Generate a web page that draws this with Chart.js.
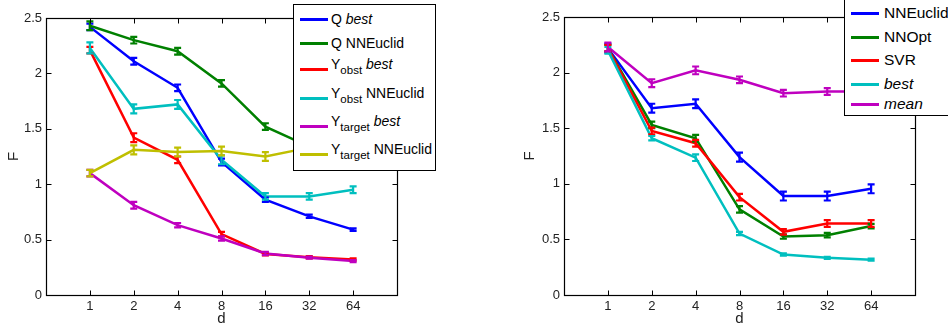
<!DOCTYPE html>
<html>
<head>
<meta charset="utf-8">
<script src="https://cdn.jsdelivr.net/npm/chart.js@4"></script>
<style>
  body { margin: 0; background: #fff; width: 948px; height: 329px; overflow: hidden; position: relative;
         font-family: "Liberation Sans", Arial, sans-serif; }
  .panel { position: absolute; top: 0; width: 474px; height: 329px; }
  .legend { position: absolute; background: #fff; border: 1px solid #000; box-sizing: border-box; color: #000; }
  .legend .swatch { position: absolute; height: 3px; width: 28px; }
  .legend .label { position: absolute; white-space: nowrap; line-height: 16px; }
  .legend sub { font-size: 11.5px; vertical-align: -5px; line-height: 0; }
</style>
</head>
<body>
<canvas id="left" class="panel" width="474" height="329" style="left:0"></canvas>
<canvas id="right" class="panel" width="474" height="329" style="left:474px"></canvas>
<div id="legLeft" class="legend" style="left:293px; top:4px; width:143px; height:167px; font-size:14px"></div>
<div id="legRight" class="legend" style="left:844px; top:-2px; width:110px; height:118px; font-size:15.5px"></div>
<script>
/* x categories (d) and y ticks */
const dLabels = ['1', '2', '4', '8', '16', '32', '64'];
const yTicks = [0, 0.5, 1, 1.5, 2, 2.5];

/* left panel */
const qBest          = [2.42, 2.11, 1.87, 1.20, 0.86, 0.71, 0.59];
const qBestErr       = [0.03, 0.03, 0.03, 0.03, 0.02, 0.015, 0.012];
const qNNE           = [2.43, 2.30, 2.20, 1.91, 1.52, 1.34, 1.28];
const qNNEErr        = [0.04, 0.03, 0.03, 0.03, 0.03, 0.03, 0.03];
const yObstBest      = [2.21, 1.42, 1.22, 0.55, 0.37, 0.34, 0.32];
const yObstBestErr   = [0.03, 0.04, 0.03, 0.02, 0.012, 0.01, 0.01];
const yObstNNE       = [2.23, 1.68, 1.72, 1.22, 0.89, 0.89, 0.95];
const yObstNNEErr    = [0.05, 0.04, 0.04, 0.04, 0.03, 0.03, 0.03];
const yTargetBest    = [1.10, 0.81, 0.63, 0.51, 0.375, 0.337, 0.306];
const yTargetBestErr = [0.03, 0.03, 0.02, 0.02, 0.015, 0.01, 0.01];
const yTargetNNE     = [1.10, 1.31, 1.29, 1.30, 1.25, 1.33, 1.33];
const yTargetNNEErr  = [0.03, 0.04, 0.04, 0.04, 0.04, 0.04, 0.04];

/* right panel */
const nnEuclid    = [2.22, 1.68, 1.72, 1.24, 0.89, 0.89, 0.955];
const nnEuclidErr = [0.04, 0.04, 0.04, 0.04, 0.04, 0.04, 0.04];
const nnOpt       = [2.22, 1.53, 1.41, 0.77, 0.526, 0.538, 0.62];
const nnOptErr    = [0.03, 0.03, 0.03, 0.03, 0.02, 0.02, 0.02];
const svr         = [2.22, 1.475, 1.365, 0.88, 0.568, 0.643, 0.643];
const svrErr      = [0.03, 0.03, 0.03, 0.03, 0.025, 0.03, 0.03];
const best        = [2.20, 1.41, 1.235, 0.553, 0.364, 0.334, 0.318];
const bestErr     = [0.03, 0.02, 0.03, 0.015, 0.01, 0.01, 0.01];
const mean        = [2.23, 1.905, 2.02, 1.935, 1.815, 1.83, 1.83];
const meanErr     = [0.04, 0.035, 0.035, 0.03, 0.03, 0.03, 0.03];

const C = { blue: '#0000ff', green: '#008000', red: '#ff0000', cyan: '#00bfbf', magenta: '#bf00bf', olive: '#bfbf00' };

function series(label, values, err, color, i) {
    return {
        label, err,
        data: values.map((v, k) => ({ x: k, y: v })),
        borderColor: color, backgroundColor: color,
        borderWidth: 2.5, pointRadius: 0, tension: 0,
        order: -i   // later series drawn on top, like matlab
    };
}

// error bars with small caps, drawn through the scales
const errorBars = {
    id: 'errorBars',
    afterDatasetsDraw(chart) {
        const { ctx, scales: { x, y } } = chart;
        ctx.save();
        ctx.lineWidth = 2.2;
        chart.data.datasets.forEach(ds => {
            ctx.strokeStyle = ds.borderColor;
            ds.data.forEach((p, k) => {
                const e = ds.err[k];
                const px = x.getPixelForValue(p.x);
                const y0 = y.getPixelForValue(p.y - e), y1 = y.getPixelForValue(p.y + e);
                ctx.beginPath();
                ctx.moveTo(px, y0); ctx.lineTo(px, y1);
                ctx.moveTo(px - 3.5, y0); ctx.lineTo(px + 3.5, y0);
                ctx.moveTo(px - 3.5, y1); ctx.lineTo(px + 3.5, y1);
                ctx.stroke();
            });
        });
        ctx.restore();
    }
};

// box round the plot with inward ticks on all four sides
const matlabBox = {
    id: 'matlabBox',
    afterDraw(chart) {
        const { ctx, chartArea: a, scales: { x, y } } = chart;
        const L = Math.round(a.left) + 0.5, R = Math.round(a.right) + 0.5;
        const T = Math.round(a.top) + 0.5, B = Math.round(a.bottom) + 0.5;
        const tl = 5;
        ctx.save();
        ctx.strokeStyle = '#000';
        ctx.lineWidth = 1.2;
        ctx.strokeRect(L, T, R - L, B - T);
        ctx.beginPath();
        ctx.lineWidth = 1;
        x.ticks.forEach(t => {
            const px = Math.round(x.getPixelForValue(t.value)) + 0.5;
            ctx.moveTo(px, B); ctx.lineTo(px, B - tl);
            ctx.moveTo(px, T); ctx.lineTo(px, T + tl);
        });
        y.ticks.forEach(t => {
            const py = Math.round(y.getPixelForValue(t.value)) + 0.5;
            ctx.moveTo(L, py); ctx.lineTo(L + tl, py);
            ctx.moveTo(R, py); ctx.lineTo(R - tl, py);
        });
        ctx.stroke();
        ctx.restore();
    }
};

function makeChart(id, datasets, yWidth, padding) {
    const font = { family: '"Liberation Sans", Arial, sans-serif', size: 13 };
    return new Chart(document.getElementById(id), {
        type: 'line',
        data: { datasets },
        options: {
            responsive: false, animation: false, devicePixelRatio: 1,
            layout: { padding },
            plugins: { legend: { display: false }, tooltip: { enabled: false } },
            scales: {
                x: {
                    type: 'linear', min: -1, max: 7,
                    afterBuildTicks: s => { s.ticks = dLabels.map((_, i) => ({ value: i })); },
                    afterFit: s => { s.height = 34; },
                    ticks: { callback: v => dLabels[v], color: '#222', font, padding: 4, maxRotation: 0 },
                    grid: { display: false, drawTicks: false },
                    border: { display: false },
                    title: { display: true, text: 'd', color: '#222', font: { ...font, size: 15 }, padding: { top: 0, bottom: 1 } }
                },
                y: {
                    min: 0, max: 2.5,
                    afterBuildTicks: s => { s.ticks = yTicks.map(v => ({ value: v })); },
                    afterFit: s => { s.width = yWidth; },
                    ticks: { callback: v => String(v), color: '#222', font, padding: 4 },
                    grid: { display: false, drawTicks: false },
                    border: { display: false },
                    title: { display: true, text: 'F', color: '#222', font: { ...font, size: 15 }, padding: { top: 0, bottom: 0 } }
                }
            }
        },
        plugins: [errorBars, matlabBox]
    });
}

makeChart('left', [
    series('Q best', qBest, qBestErr, C.blue, 0),
    series('Q NNEuclid', qNNE, qNNEErr, C.green, 1),
    series('Y_obst best', yObstBest, yObstBestErr, C.red, 2),
    series('Y_obst NNEuclid', yObstNNE, yObstNNEErr, C.cyan, 3),
    series('Y_target best', yTargetBest, yTargetBestErr, C.magenta, 4),
    series('Y_target NNEuclid', yTargetNNE, yTargetNNEErr, C.olive, 5)
], 41, { top: 18, right: 77, left: 5, bottom: 0 });

makeChart('right', [
    series('NNEuclid', nnEuclid, nnEuclidErr, C.blue, 0),
    series('NNOpt', nnOpt, nnOptErr, C.green, 1),
    series('SVR', svr, svrErr, C.red, 2),
    series('best', best, bestErr, C.cyan, 3),
    series('mean', mean, meanErr, C.magenta, 4)
], 43, { top: 17, right: 33, left: 47, bottom: 0 });

// legends (html so the subscripts stay real text)
const leftLegend = [
    ['Q <i>best</i>', C.blue, 14, false],
    ['Q NNEuclid', C.green, 38, false],
    ['Y<sub>obst</sub> <i>best</i>', C.red, 64, true],
    ['Y<sub>obst</sub> NNEuclid', C.cyan, 93, true],
    ['Y<sub>target</sub> <i>best</i>', C.magenta, 121, true],
    ['Y<sub>target</sub> NNEuclid', C.olive, 149, true]
];
const rightLegend = [
    ['NNEuclid', C.blue, 14, false],
    ['NNOpt', C.green, 38, false],
    ['SVR', C.red, 61, false],
    ['<i>best</i>', C.cyan, 85, false],
    ['<i>mean</i>', C.magenta, 105, false]
];

function fillLegend(id, rows, swLeft, textLeft) {
    const box = document.getElementById(id);
    rows.forEach(([html, color, ly, sub]) => {
        const sw = document.createElement('div');
        sw.className = 'swatch';
        sw.style.cssText = `left:${swLeft}px; top:${ly - 1.5}px; background:${color}`;
        const lb = document.createElement('div');
        lb.className = 'label';
        lb.style.cssText = `left:${textLeft}px; top:${sub ? ly - 13 : ly - 8}px`;
        lb.innerHTML = html;
        box.appendChild(sw);
        box.appendChild(lb);
    });
}
fillLegend('legLeft', leftLegend, 6, 37);
fillLegend('legRight', rightLegend, 6, 39);
</script>
</body>
</html>
